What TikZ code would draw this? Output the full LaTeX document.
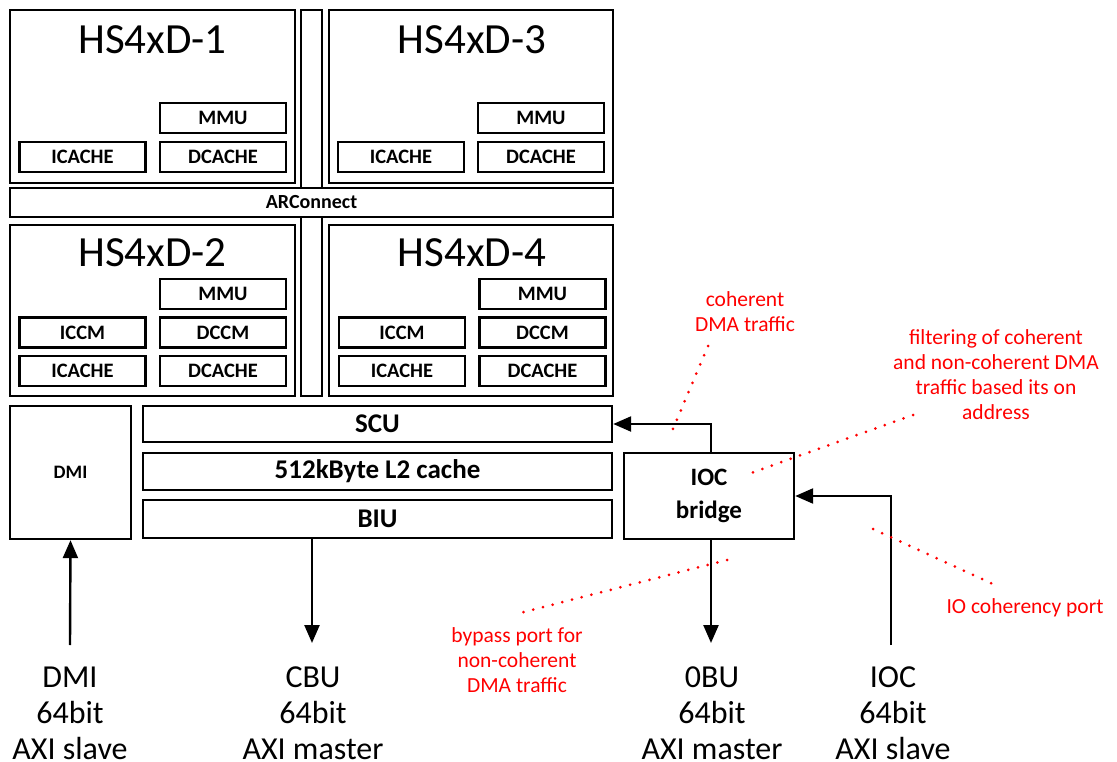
\documentclass[tikz,border=0pt]{standalone}
\usepackage{fontspec}
\setmainfont{Carlito}
\usetikzlibrary{arrows.meta,calc}
\begin{document}
\begin{tikzpicture}[x=1pt,y=-1pt,
  blk/.style={draw, line width=2.4pt, fill=white, rectangle, inner sep=0pt},
  sub/.style={blk, minimum width=126pt, minimum height=30pt, font=\bfseries\fontsize{20.5}{22}\selectfont},
  core/.style={blk, minimum width=285pt},
  ttl/.style={font=\fontsize{43}{46}\selectfont},
  big/.style={blk, font=\bfseries\fontsize{27}{30}\selectfont},
  lbl/.style={align=center, font=\fontsize{32}{36}\selectfont},
  note/.style={align=center, text=red, font=\fontsize{21.5}{25}\selectfont},
  dots/.style={red, line width=3pt, dash pattern=on 0pt off 10pt, line cap=round},
  arr/.style={line width=2.4pt, -{Triangle[length=18pt,width=15pt]}},
  wire/.style={line width=2.4pt}]
\useasboundingbox (0,0) rectangle (1117,762);

% vertical interconnect bar and ARConnect
\node[blk, minimum width=21pt, minimum height=386pt] (vbar) at (311.5,203) {};
\node[blk, minimum width=603pt, minimum height=29pt, font=\bfseries\fontsize{20}{22}\selectfont] (arc) at (311.5,202.5) {ARConnect};

% cores
\node[core, minimum height=173pt] (hs1) at (152.5,96.5) {};
\node[core, minimum height=173pt, minimum width=284pt] (hs3) at (471,96.5) {};
\node[core, minimum height=171pt] (hs2) at (152.5,310.5) {};
\node[core, minimum height=171pt, minimum width=284pt] (hs4) at (471,310.5) {};

\node[ttl] (t1) at (152.5,40) {HS4xD-1};
\node[ttl] (t3) at (472,40) {HS4xD-3};
\node[ttl] (t2) at (152.5,253) {HS4xD-2};
\node[ttl] (t4) at (472,253) {HS4xD-4};

\node[sub] (mmu1) at (223,118) {MMU};
\node[sub] (ic1) at (82.5,157) {ICACHE};
\node[sub] (dc1) at (223,157) {DCACHE};

\node[sub] (mmu3) at (541,118) {MMU};
\node[sub] (ic3) at (401,157) {ICACHE};
\node[sub] (dc3) at (541,157) {DCACHE};

\node[sub] (mmu2) at (223,294) {MMU};
\node[sub] (iccm2) at (82.5,332.5) {ICCM};
\node[sub] (dccm2) at (223,332.5) {DCCM};
\node[sub] (ic2) at (82.5,371) {ICACHE};
\node[sub] (dc2) at (223,371) {DCACHE};

\node[sub] (mmu4) at (542.5,294) {MMU};
\node[sub] (iccm4) at (402,332.5) {ICCM};
\node[sub] (dccm4) at (542.5,332.5) {DCCM};
\node[sub] (ic4) at (402,371) {ICACHE};
\node[sub] (dc4) at (542.5,371) {DCACHE};

% lower blocks
\node[blk, minimum width=121pt, minimum height=133pt, font=\bfseries\fontsize{19}{20}\selectfont] (dmi) at (70.5,472.5) {DMI};
\node[big, minimum width=469pt, minimum height=36pt] (scu) at (377.5,424) {SCU};
\node[big, minimum width=469pt, minimum height=37pt] (l2) at (377.5,471.5) {512kByte L2 cache};
\node[big, minimum width=469pt, minimum height=38pt] (biu) at (377.5,519) {BIU};
\node[big, minimum width=170pt, minimum height=86pt, align=center, font=\bfseries\fontsize{25}{33}\selectfont] (ioc) at (709,496) {IOC\\bridge};

% bottom ports
\node[lbl] (pdmi) at (70,713.5) {DMI\\64bit\\AXI slave};
\node[lbl] (pcbu) at (313,713.5) {CBU\\64bit\\AXI master};
\node[lbl] (pobu) at (712,713.5) {0BU\\64bit\\AXI master};
\node[lbl] (pioc) at (893,713.5) {IOC\\64bit\\AXI slave};

\coordinate (dmiin) at (70,645);
\coordinate (cbuout) at (312,643);
\coordinate (obuout) at (711,643);
\coordinate (iocin) at (891,645);
\coordinate (biuout) at (312,538);
\coordinate (iocup) at (711,453);
\coordinate (iocdn) at (711,539);

\draw[arr] (dmiin) -- (dmi.south);
\draw[arr] (biuout) -- (cbuout);
\draw[arr] (iocdn) -- (obuout);
\draw[arr] (iocup) |- (scu.east);
\draw[arr] (iocin) |- (ioc.east);

% notes
\node[note] (n1) at (745,312) {coherent\\DMA traffic};
\node[note] (n2) at (996,375) {filtering of coherent\\and non-coherent DMA\\traffic based its on\\address};
\node[note] (n3) at (517,660) {bypass port for\\non-coherent\\DMA traffic};
\node[note] (n4) at (1025,608) {IO coherency port};

\coordinate (d1a) at (708,346);
\coordinate (d1b) at (670,436);
\coordinate (d2a) at (913,415);
\coordinate (d2b) at (751,473);
\coordinate (d3a) at (727,560);
\coordinate (d3b) at (516,614);
\coordinate (d4a) at (873,529);
\coordinate (d4b) at (995,585);
\draw[dots] (d1a) -- (d1b);
\draw[dots] (d2a) -- (d2b);
\draw[dots] (d3a) -- (d3b);
\draw[dots] (d4a) -- (d4b);
\end{tikzpicture}
\end{document}
